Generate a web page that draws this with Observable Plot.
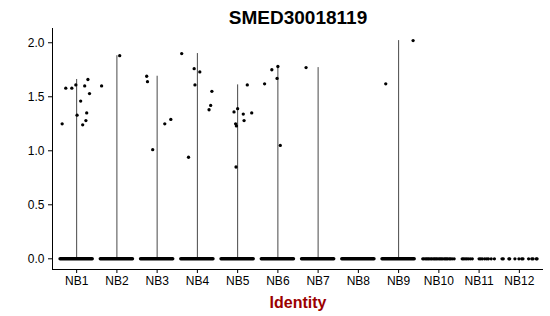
<!DOCTYPE html>
<html>
<head>
<meta charset="utf-8">
<script src="https://cdn.jsdelivr.net/npm/d3@7"></script>
<script src="https://cdn.jsdelivr.net/npm/@observablehq/plot@0.6"></script>
<style>
  html, body { margin: 0; padding: 0; background: white; }
</style>
</head>
<body>
<div id="chart"></div>
<script>
const title = "SMED30018119";
const xLabel = "Identity";
const categories = ["NB1","NB2","NB3","NB4","NB5","NB6","NB7","NB8","NB9","NB10","NB11","NB12"];
const yTicks = [0, 0.5, 1, 1.5, 2];

// non-zero cells: identity, expression value, jitter offset
const pointIdentity = [
  "NB1","NB1","NB1","NB1","NB1","NB1","NB1","NB1","NB1","NB1","NB1","NB1",
  "NB2","NB2",
  "NB3","NB3","NB3","NB3","NB3",
  "NB4","NB4","NB4","NB4","NB4","NB4","NB4","NB4",
  "NB5","NB5","NB5","NB5","NB5","NB5","NB5","NB5","NB5",
  "NB6","NB6","NB6","NB6","NB6",
  "NB7",
  "NB9","NB9"
];
const pointValue = [
  1.25,1.58,1.58,1.61,1.33,1.46,1.24,1.60,1.28,1.35,1.66,1.53,
  1.60,1.88,
  1.69,1.64,1.01,1.25,1.29,
  1.90,0.94,1.76,1.61,1.73,1.38,1.42,1.55,
  1.36,1.39,1.25,1.23,1.34,1.28,1.61,1.35,0.85,
  1.62,1.75,1.78,1.67,1.05,
  1.77,
  1.62,2.02
];
const pointJitter = [
  -0.36,-0.27,-0.12,-0.02,0.01,0.10,0.15,0.20,0.23,0.25,0.28,0.32,
  -0.38,0.07,
  -0.26,-0.24,-0.11,0.19,0.34,
  -0.39,-0.22,-0.08,-0.06,0.06,0.29,0.33,0.36,
  -0.09,0.00,-0.05,-0.03,0.14,0.16,0.24,0.35,-0.04,
  -0.33,-0.15,0.00,-0.02,0.06,
  -0.30,
  -0.32,0.36
];

// groups whose zero cells form a solid band
const denseZeroGroups = ["NB1","NB2","NB3","NB4","NB5","NB6","NB7","NB8","NB9"];
// sparse zero cells (identity, jitter offset)
const zeroIdentity = [
  "NB10","NB10","NB10","NB10","NB10","NB10","NB10","NB10","NB10","NB10","NB10","NB10","NB10",
  "NB10","NB10","NB10","NB10","NB10","NB10","NB10","NB10","NB10","NB10","NB10",
  "NB11","NB11","NB11","NB11","NB11","NB11","NB11","NB11","NB11","NB11","NB11","NB11","NB11","NB11","NB11",
  "NB12","NB12","NB12","NB12","NB12","NB12","NB12","NB12","NB12","NB12","NB12","NB12","NB12"
];
const zeroJitter = [
  -0.40,-0.37,-0.33,-0.30,-0.27,-0.24,-0.20,-0.17,-0.13,-0.10,-0.07,-0.04,0.00,
  0.03,0.06,0.09,0.13,0.16,0.19,0.22,0.26,0.29,0.33,0.38,
  -0.42,-0.39,-0.35,-0.31,-0.27,-0.22,-0.17,0.00,0.04,0.08,0.14,0.19,0.23,0.30,0.38,
  -0.43,-0.40,-0.26,-0.24,-0.11,-0.01,0.06,0.09,0.23,0.31,0.34,0.42,0.44
];

const idx = c => categories.indexOf(c) + 1;
const points = pointIdentity.map((c, i) => ({identity: c, value: pointValue[i], jitter: pointJitter[i]}));
const zeros = zeroIdentity.map((c, i) => ({identity: c, value: 0, jitter: zeroJitter[i]}));
const violins = categories.map(c => ({identity: c, max: d3.max(points.filter(p => p.identity === c), p => p.value) || 0}))
  .filter(d => d.max > 0);
const bands = denseZeroGroups.map(c => ({identity: c}));

const yMin = -0.099, yMax = 2.132;
const font = "Liberation Sans, Arial, Helvetica, sans-serif";

const chart = Plot.plot({
  width: 550,
  height: 316,
  marginLeft: 52,
  marginRight: 7,
  marginTop: 28,
  marginBottom: 47,
  style: {fontFamily: font, background: "white", color: "black", overflow: "visible"},
  x: {type: "linear", domain: [0.4, 12.6]},
  y: {domain: [yMin, yMax]},
  marks: [
    Plot.ruleX(violins, {x: d => idx(d.identity), y1: 0, y2: "max", stroke: "#333", strokeWidth: 0.9}),
    Plot.ruleY(bands, {y: 0, x1: d => idx(d.identity) - 0.4, x2: d => idx(d.identity) + 0.4, stroke: "black", strokeWidth: 3.4, strokeLinecap: "round"}),
    Plot.dot(zeros, {x: d => idx(d.identity) + d.jitter, y: "value", r: 1.65, fill: "black", stroke: null}),
    Plot.dot(points, {x: d => idx(d.identity) + d.jitter, y: "value", r: 1.65, fill: "black", stroke: null}),
    Plot.ruleY([yMin], {stroke: "black", strokeWidth: 1}),
    Plot.ruleX([0.4], {stroke: "black", strokeWidth: 1}),
    Plot.axisX({ticks: categories.map(idx), tickFormat: i => categories[i - 1], tickSize: 4, tickPadding: 3, fontSize: 12, label: null}),
    Plot.axisY({ticks: yTicks, tickFormat: d => d.toFixed(1), tickSize: 4, tickPadding: 4, fontSize: 12, label: null}),
    Plot.text([title], {frameAnchor: "top", dy: -5, lineAnchor: "bottom", fontSize: 19, fontWeight: "bold", fill: "black"}),
    Plot.text([xLabel], {frameAnchor: "bottom", dy: 38, lineAnchor: "bottom", fontSize: 16, fontWeight: "bold", fill: "#9b0000"})
  ]
});
document.getElementById("chart").appendChild(chart);
</script>
</body>
</html>
